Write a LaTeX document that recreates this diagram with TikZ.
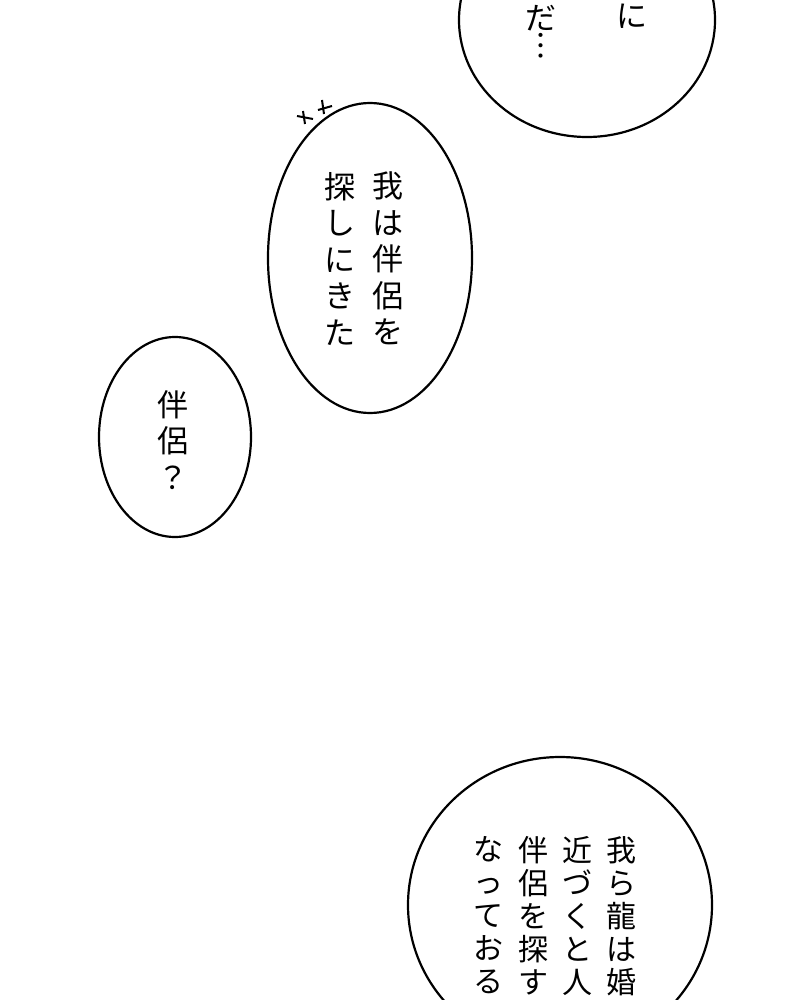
\documentclass[tikz,border=0pt]{standalone}
\usepackage{fontspec}
\newfontfamily\cjk{Noto Sans CJK JP}
\tikzset{
  bubble/.style={draw=black, line width=2.2pt, fill=white},
  vcol/.style={anchor=north, inner sep=0pt, align=center,
    font=\cjk\fontsize{31}{36.5}\selectfont},
  vcolb/.style={vcol, font=\cjk\fontsize{30}{33}\selectfont},
}
\begin{document}
\begin{tikzpicture}[x=1pt, y=-1pt]
  \useasboundingbox (0,0) rectangle (800,1000);
  \clip (0,0) rectangle (800,1000);

  % top right bubble
  \draw[bubble] (587,20) ellipse [x radius=128, y radius=117];
  \node[vcol] (ni) at (632,4) {に};
  \node[vcol] (da) at (541,5) {だ\\[-8pt]︙};

  % middle bubble
  \draw[bubble] (370,258) ellipse [x radius=102, y radius=155];
  \node[vcol] (col1) at (388,172) {我\\は\\伴\\侶\\を};
  \node[vcol] (col2) at (340,172) {探\\し\\に\\き\\た};
  \draw[line width=2pt] (297,116) -- (313,119) (303,111) -- (305,124)
    (318,110) -- (332,106) (322,100) -- (324,114);

  % left bubble
  \draw[bubble] (175,437) ellipse [x radius=76, y radius=100];
  \node[vcol] (ask) at (173,390) {伴\\侶\\？};

  % bottom right bubble
  \draw[bubble] (560,905) ellipse [x radius=152, y radius=148];
  \node[vcolb] (row1) at (621,836) {我\\ら\\龍\\は\\婚};
  \node[vcolb] (row2) at (577,836) {近\\づ\\く\\と\\人};
  \node[vcolb] (row3) at (533,836) {伴\\侶\\を\\探\\す};
  \node[vcolb] (row4) at (488,836) {な\\っ\\て\\お\\る};
\end{tikzpicture}
\end{document}
